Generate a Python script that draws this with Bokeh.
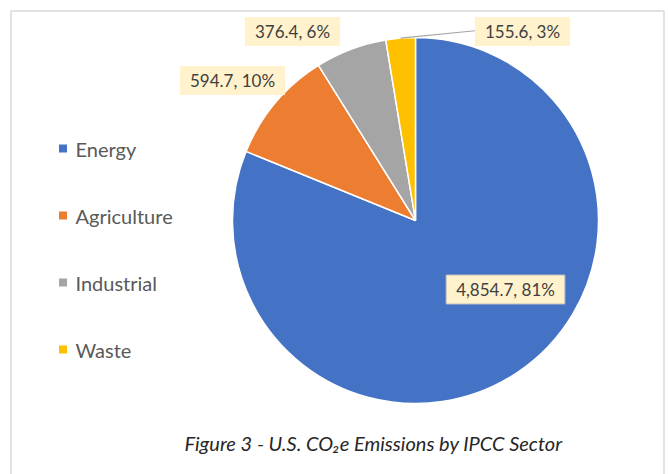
import math
from bokeh.plotting import figure
from bokeh.models import Range1d, Label, ColumnDataSource
from bokeh.core.properties import value
from bokeh.embed import file_html
from bokeh.resources import INLINE

# ---- data ----
sectors = ["Energy", "Agriculture", "Industrial", "Waste"]
emissions = [4854.7, 594.7, 376.4, 155.6]
percent_labels = ["81%", "10%", "6%", "3%"]
colors = ["#4472C4", "#ED7D31", "#A5A5A5", "#FFC000"]
title_text = "Figure 3 - U.S. CO\u2082e Emissions by IPCC Sector"

W, H = 668, 474
def Y(py):
    return H - py

p = figure(width=W, height=H, output_backend="svg", toolbar_location=None,
           x_range=Range1d(0, W), y_range=Range1d(0, H), min_border=0)
p.axis.visible = False
p.grid.visible = False
p.outline_line_color = None
p.background_fill_color = "white"
p.border_fill_color = "white"

# frame border
p.quad(left=[10.5], right=[663.5], bottom=[-20], top=[Y(10.5)],
       fill_color=None, line_color="#D9D9D9", line_width=1.5)

# pie
cx, cy, r = 415, Y(220), 183
total = sum(emissions)
starts, ends, mids = [], [], []
cum = 0.0
for v in emissions:
    a0 = math.pi / 2 - 2 * math.pi * cum / total
    cum += v
    a1 = math.pi / 2 - 2 * math.pi * cum / total
    starts.append(a0)
    ends.append(a1)
    mids.append((a0 + a1) / 2)

src = ColumnDataSource(dict(start=starts, end=ends, color=colors))
p.wedge(x=cx, y=cy, radius=r, start_angle="start", end_angle="end",
        direction="clock", fill_color="color", line_color="white",
        line_width=1.5, source=src)

# data labels (positions = layout)
label_pos = [(505, 289), (232, 80), (292, 31), (522, 31)]
for i, (lx, ly) in enumerate(label_pos):
    txt = f"{emissions[i]:,.1f}, {percent_labels[i]}"
    p.add_layout(Label(x=lx, y=Y(ly), text=txt, text_align="center",
                       text_baseline="middle", text_font="Lato",
                       text_font_size="17px", text_color="#404040",
                       background_fill_color="#FFF2CC",
                       border_line_color="#BFBFBF" if i == 0 else None,
                       padding=(10, 4)))

# leader line for Waste
wm = mids[3]
sx, sy = cx + r * math.cos(wm), cy + r * math.sin(wm)
p.line(x=[sx, 477], y=[sy, Y(30)], line_color="#A6A6A6", line_width=1.2)

# legend
leg_y = [148, 215, 282, 349]
for i, s in enumerate(sectors):
    p.scatter(x=[62.5], y=[Y(leg_y[i])], marker="square", size=8,
              fill_color=colors[i], line_color=None)
    p.text(x=[75], y=[Y(leg_y[i])], text=[s], text_font=value("Lato"),
           text_font_size="20px", text_color="#595959",
           text_baseline="middle", text_align="left")

# title
p.text(x=[373], y=[Y(442)], text=[title_text], text_font=value("Lato"),
       text_font_size="20px", text_font_style="italic", text_color="#262626",
       text_align="center", text_baseline="middle")

open("out.html", "w").write(file_html(p, INLINE))
